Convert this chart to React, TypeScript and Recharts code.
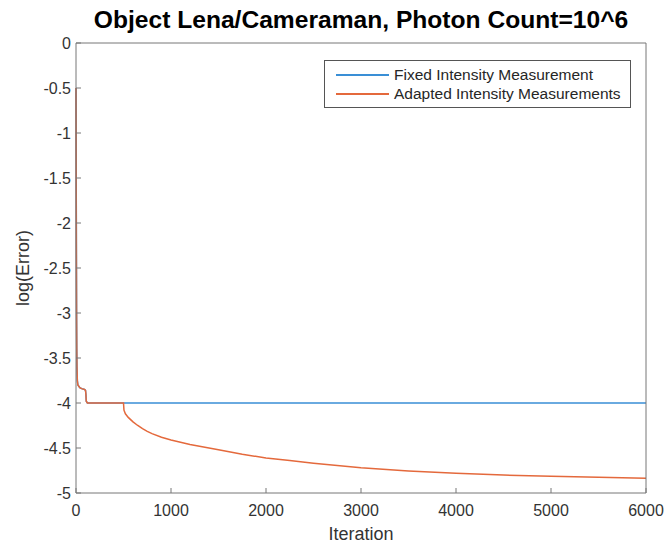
import { LineChart, Line, XAxis, YAxis, Legend } from "recharts";

// iteration positions sampled along the curves
const iterations = [
  0, 2, 4, 6, 8, 10, 14, 20, 40, 60, 90, 100, 104, 108, 120, 200, 300, 400, 500,
  505, 520, 550, 600, 650, 700, 750, 800, 900, 1000, 1200, 1500, 1750, 2000,
  2250, 2500, 3000, 3500, 4000, 4500, 5000, 5500, 6000,
];

const fixedError = [
  -0.5, -1.4, -2.3, -3.0, -3.4, -3.6, -3.75, -3.8, -3.83, -3.84, -3.85, -3.86,
  -3.9, -3.98, -4.0, -4.0, -4.0, -4.0, -4.0, -4.0, -4.0, -4.0, -4.0, -4.0, -4.0,
  -4.0, -4.0, -4.0, -4.0, -4.0, -4.0, -4.0, -4.0, -4.0, -4.0, -4.0, -4.0, -4.0,
  -4.0, -4.0, -4.0, -4.0,
];

const adaptedError = [
  -0.5, -1.4, -2.3, -3.0, -3.4, -3.6, -3.75, -3.8, -3.83, -3.84, -3.85, -3.86,
  -3.9, -3.98, -4.0, -4.0, -4.0, -4.0, -4.0, -4.08, -4.12, -4.16, -4.21, -4.25,
  -4.285, -4.315, -4.34, -4.38, -4.41, -4.46, -4.52, -4.57, -4.61, -4.64, -4.67,
  -4.72, -4.755, -4.78, -4.8, -4.815, -4.825, -4.835,
];

const seriesNames = ["Fixed Intensity Measurement", "Adapted Intensity Measurements"];

const xTicks = [0, 1000, 2000, 3000, 4000, 5000, 6000];
const yTicks = [0, -0.5, -1, -1.5, -2, -2.5, -3, -3.5, -4, -4.5, -5];

const rows = iterations.map((it, i) => ({
  iter: it,
  fixed: fixedError[i],
  adapted: adaptedError[i],
}));

const FONT = "'Liberation Sans', Arial, Helvetica, sans-serif";
const AXIS = "#777777";

function LegendBox(props: any) {
  // keep the plotting order, recharts sorts entries by name
  const items = [...(props.payload || [])].sort(
    (a: any, b: any) => seriesNames.indexOf(a.value) - seriesNames.indexOf(b.value)
  );
  return (
    <div
      style={{
        border: "1px solid #555",
        background: "#fff",
        width: 305,
        height: 42,
        boxSizing: "content-box",
        paddingTop: 4,
        fontFamily: FONT,
        fontSize: 15.5,
        color: "#262626",
      }}
    >
      {items.map((it: any) => (
        <div
          key={it.value}
          style={{ display: "flex", alignItems: "center", height: 19 }}
        >
          <span
            style={{
              display: "inline-block",
              width: 53,
              height: 0,
              borderTop: `2px solid ${it.color}`,
              marginLeft: 11,
              marginRight: 5,
            }}
          />
          <span>{it.value}</span>
        </div>
      ))}
    </div>
  );
}

export default function App() {
  return (
    <div
      style={{
        position: "absolute",
        left: 0,
        top: 0,
        width: 667,
        height: 547,
        background: "#fff",
        fontFamily: FONT,
      }}
    >
      <div
        style={{
          position: "absolute",
          left: 61,
          top: 8,
          width: 600,
          textAlign: "center",
          fontWeight: "bold",
          fontSize: 24.6,
          lineHeight: "24px",
          color: "#000",
        }}
      >
        Object Lena/Cameraman, Photon Count=10^6
      </div>
      <LineChart
        width={667}
        height={547}
        data={rows}
        margin={{ top: 0, right: 0, bottom: 0, left: 0 }}
      >
        <XAxis
          xAxisId="b"
          dataKey="iter"
          type="number"
          domain={[0, 6000]}
          ticks={xTicks}
          height={54}
          tickSize={-5}
          tickMargin={17}
          stroke={AXIS}
          tick={{ fill: "#333", fontSize: 16 }}
        />
        <XAxis
          xAxisId="t"
          orientation="top"
          dataKey="iter"
          type="number"
          domain={[0, 6000]}
          ticks={xTicks}
          height={43}
          tickSize={-5}
          stroke={AXIS}
          tick={false}
        />
        <YAxis
          yAxisId="l"
          type="number"
          domain={[-5, 0]}
          ticks={yTicks}
          width={76}
          tickSize={-5}
          tickMargin={10}
          stroke={AXIS}
          tick={{ fill: "#333", fontSize: 16 }}
        />
        <YAxis
          yAxisId="r"
          orientation="right"
          type="number"
          domain={[-5, 0]}
          ticks={yTicks}
          width={21}
          tickSize={-5}
          stroke={AXIS}
          tick={false}
        />
        <Legend
          layout="vertical"
          align="center"
          verticalAlign="middle"
          content={<LegendBox />}
          wrapperStyle={{ top: 60, left: 324, width: 307 }}
        />
        <Line
          xAxisId="b"
          yAxisId="l"
          dataKey="fixed"
          name={seriesNames[0]}
          stroke="#3a8fd6"
          strokeWidth={1.5}
          dot={false}
          type="linear"
          isAnimationActive={false}
        />
        <Line
          xAxisId="b"
          yAxisId="l"
          dataKey="adapted"
          name={seriesNames[1]}
          stroke="#e4693c"
          strokeWidth={1.5}
          dot={false}
          type="linear"
          isAnimationActive={false}
        />
      </LineChart>
      <div
        style={{
          position: "absolute",
          left: 261,
          top: 525,
          width: 200,
          textAlign: "center",
          fontSize: 18,
          lineHeight: "18px",
          color: "#333",
        }}
      >
        Iteration
      </div>
      <div
        style={{
          position: "absolute",
          left: 23 - 100,
          top: 268 - 10,
          width: 200,
          height: 20,
          lineHeight: "20px",
          textAlign: "center",
          fontSize: 18,
          color: "#333",
          transform: "rotate(-90deg)",
        }}
      >
        log(Error)
      </div>
    </div>
  );
}
